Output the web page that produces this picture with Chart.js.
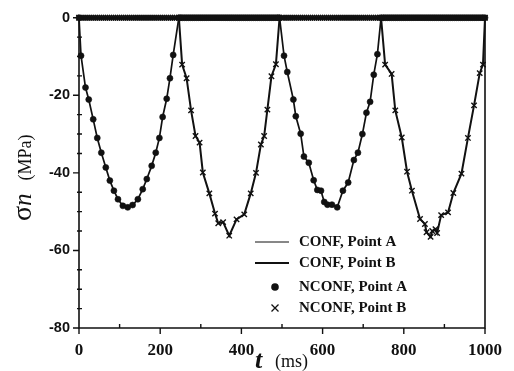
<!DOCTYPE html>
<html><head><meta charset="utf-8">
<script src="https://cdn.jsdelivr.net/npm/chart.js@4/dist/chart.umd.min.js"></script>
<style>html,body{margin:0;padding:0;background:#fff}#wrap{width:514px;height:371px;position:relative}</style>
</head><body><div id="wrap"><canvas id="c"></canvas></div>
<script>
// ---- tick values ----
const xTickValues = [0, 200, 400, 600, 800, 1000];
const yTickValues = [0, -20, -40, -60, -80];
const xMinorTicks = [100, 300, 500, 700, 900];
const yMinorTicks = [-5, -10, -15, -25, -30, -35, -45, -50, -55, -65, -70, -75];
const legendLabels = ['CONF, Point A', 'CONF, Point B', 'NCONF, Point A', 'NCONF, Point B'];

// ---- Point A (loaded in 0-250 and 500-750 ms) ----
const aT = [0, 5, 16, 24, 35, 45, 55, 66, 76, 86, 96, 108, 120, 132, 145, 157, 167, 179, 189, 198, 206, 216, 224, 232, 246,
            494, 505, 513, 528, 534, 546, 554, 566, 578, 587, 596, 604, 612, 623, 636, 650, 663, 677, 687, 698, 708, 717, 726, 735, 744,
            1000];
const aV = [0, -9.8, -18, -21.1, -26.2, -31, -34.8, -38.6, -42, -44.6, -46.8, -48.5, -48.9, -48.3, -46.8, -44.2, -41.6, -38.2, -34.8, -31, -25.6, -20.9, -15.6, -9.6, 0,
            0, -9.8, -14, -21.1, -25.4, -29.9, -35.8, -37.4, -41.9, -44.4, -44.6, -47.5, -48.2, -48.2, -48.9, -44.6, -42.5, -36.7, -34.8, -30, -24.5, -21.7, -14.7, -9.4, 0,
            0];
// Point A unloaded samples (stress 0 MPa)
const aZeroT1 = [250, 255, 260, 265, 270, 275, 280, 285, 290, 295,
                 300, 305, 310, 315, 320, 325, 330, 335, 340, 345,
                 350, 355, 360, 365, 370, 375, 380, 385, 390, 395,
                 400, 405, 410, 415, 420, 425, 430, 435, 440, 445,
                 450, 455, 460, 465, 470, 475, 480, 485, 490];
const aZeroV1 = [0, 0, 0, 0, 0, 0, 0, 0, 0, 0,
                 0, 0, 0, 0, 0, 0, 0, 0, 0, 0,
                 0, 0, 0, 0, 0, 0, 0, 0, 0, 0,
                 0, 0, 0, 0, 0, 0, 0, 0, 0, 0,
                 0, 0, 0, 0, 0, 0, 0, 0, 0];
const aZeroT2 = [750, 755, 760, 765, 770, 775, 780, 785, 790, 795,
                 800, 805, 810, 815, 820, 825, 830, 835, 840, 845,
                 850, 855, 860, 865, 870, 875, 880, 885, 890, 895,
                 900, 905, 910, 915, 920, 925, 930, 935, 940, 945,
                 950, 955, 960, 965, 970, 975, 980, 985, 990, 995];
const aZeroV2 = [0, 0, 0, 0, 0, 0, 0, 0, 0, 0,
                 0, 0, 0, 0, 0, 0, 0, 0, 0, 0,
                 0, 0, 0, 0, 0, 0, 0, 0, 0, 0,
                 0, 0, 0, 0, 0, 0, 0, 0, 0, 0,
                 0, 0, 0, 0, 0, 0, 0, 0, 0, 0];

// ---- Point B (loaded in 250-500 and 750-1000 ms) ----
const bT = [0,
            246, 254, 265, 276, 287, 297, 305, 321, 335, 343, 355, 370, 388, 407, 423, 436, 448, 456, 464, 474, 485, 494,
            744, 754, 770, 779, 795, 808, 820, 840, 852, 856, 866, 870, 878, 882, 892, 909, 922, 942, 958, 973, 987, 995, 1000];
const bV = [0,
            0, -12.1, -15.6, -23.9, -30.5, -32.2, -39.9, -45.3, -50.5, -53, -52.7, -56.2, -52, -50.7, -45.3, -40, -32.7, -30.5, -23.7, -15.1, -12, 0,
            0, -12.1, -14.5, -23.9, -30.9, -39.7, -44.6, -51.9, -53.2, -55.3, -56.5, -55, -54.5, -55.5, -50.9, -50.2, -45.2, -40.2, -31, -22.6, -14.3, -12.1, 0];
// Point B unloaded samples (stress 0 MPa)
const bZeroT1 = [5, 10, 15, 20, 25, 30, 35, 40, 45, 50,
                 55, 60, 65, 70, 75, 80, 85, 90, 95, 100,
                 105, 110, 115, 120, 125, 130, 135, 140, 145, 150,
                 155, 160, 165, 170, 175, 180, 185, 190, 195, 200,
                 205, 210, 215, 220, 225, 230, 235, 240];
const bZeroV1 = [0, 0, 0, 0, 0, 0, 0, 0, 0, 0,
                 0, 0, 0, 0, 0, 0, 0, 0, 0, 0,
                 0, 0, 0, 0, 0, 0, 0, 0, 0, 0,
                 0, 0, 0, 0, 0, 0, 0, 0, 0, 0,
                 0, 0, 0, 0, 0, 0, 0, 0];
const bZeroT2 = [500, 505, 510, 515, 520, 525, 530, 535, 540, 545,
                 550, 555, 560, 565, 570, 575, 580, 585, 590, 595,
                 600, 605, 610, 615, 620, 625, 630, 635, 640, 645,
                 650, 655, 660, 665, 670, 675, 680, 685, 690, 695,
                 700, 705, 710, 715, 720, 725, 730, 735, 740];
const bZeroV2 = [0, 0, 0, 0, 0, 0, 0, 0, 0, 0,
                 0, 0, 0, 0, 0, 0, 0, 0, 0, 0,
                 0, 0, 0, 0, 0, 0, 0, 0, 0, 0,
                 0, 0, 0, 0, 0, 0, 0, 0, 0, 0,
                 0, 0, 0, 0, 0, 0, 0, 0, 0];

const pts = (t, v) => t.map((x, i) => ({x: x, y: v[i]}));
const INK = '#111';

const frameAndTicks = {
  id: 'frameAndTicks',
  beforeDatasetsDraw(chart) {
    const ctx = chart.ctx, a = chart.chartArea, xs = chart.scales.x, ys = chart.scales.y;
    ctx.save();
    ctx.strokeStyle = INK; ctx.lineWidth = 1.6;
    ctx.beginPath();
    ctx.moveTo(a.left, a.top); ctx.lineTo(a.left, a.bottom); ctx.lineTo(a.right, a.bottom); ctx.lineTo(a.right, a.top);
    ctx.stroke();
    ctx.lineWidth = 1.4;
    ctx.beginPath();
    xTickValues.forEach(v => { const p = xs.getPixelForValue(v); ctx.moveTo(p, a.bottom); ctx.lineTo(p, a.bottom + 6); });
    xMinorTicks.forEach(v => { const p = xs.getPixelForValue(v); ctx.moveTo(p, a.bottom); ctx.lineTo(p, a.bottom - 4); });
    yTickValues.forEach(v => { const p = ys.getPixelForValue(v); ctx.moveTo(a.left, p); ctx.lineTo(a.left - 6, p); });
    yMinorTicks.forEach(v => { const p = ys.getPixelForValue(v); ctx.moveTo(a.left - 2, p); ctx.lineTo(a.left + 3, p); });
    ctx.stroke();
    ctx.restore();
  },
  afterDraw(chart) {
    const ctx = chart.ctx, a = chart.chartArea;
    ctx.save();
    ctx.fillStyle = INK;
    // y title (rotated)
    ctx.translate(31, 221);
    ctx.rotate(-Math.PI / 2);
    ctx.textBaseline = 'alphabetic';
    ctx.textAlign = 'left';
    ctx.font = '28px "Liberation Serif"';
    ctx.fillText('σ', 0, 0);
    let w = ctx.measureText('σ').width;
    ctx.font = 'italic 25px "Liberation Serif"';
    ctx.fillText('n', w, 0);
    w += ctx.measureText('n').width;
    ctx.font = '18px "Liberation Serif"';
    ctx.fillText('(MPa)', w + 13, 0);
    ctx.restore();
    // x title
    ctx.save();
    ctx.fillStyle = INK;
    ctx.textBaseline = 'alphabetic';
    ctx.font = 'bold italic 26px "Liberation Serif"';
    ctx.fillText('t', 255, 368);
    ctx.font = '18px "Liberation Serif"';
    ctx.fillText('(ms)', 275, 367);
    ctx.restore();
    // legend
    ctx.save();
    const lx = a.right - 230, tx = a.right - 186;
    const rows = [242, 263, 287, 308];
    ctx.strokeStyle = INK; ctx.fillStyle = INK;
    ctx.lineWidth = 1;
    ctx.beginPath(); ctx.moveTo(lx, rows[0]); ctx.lineTo(lx + 34, rows[0]); ctx.stroke();
    ctx.lineWidth = 2;
    ctx.beginPath(); ctx.moveTo(lx, rows[1]); ctx.lineTo(lx + 34, rows[1]); ctx.stroke();
    ctx.beginPath(); ctx.arc(lx + 20, rows[2], 3.8, 0, Math.PI * 2); ctx.fill();
    ctx.lineWidth = 1.3;
    ctx.beginPath();
    ctx.moveTo(lx + 16.5, rows[3] - 3.5); ctx.lineTo(lx + 23.5, rows[3] + 3.5);
    ctx.moveTo(lx + 23.5, rows[3] - 3.5); ctx.lineTo(lx + 16.5, rows[3] + 3.5);
    ctx.stroke();
    ctx.font = 'bold 15px "Liberation Serif"';
    ctx.textBaseline = 'middle';
    legendLabels.forEach((s, i) => ctx.fillText(s, tx, rows[i]));
    ctx.restore();
  }
};

new Chart(document.getElementById('c'), {
  type: 'scatter',
  data: {
    datasets: [
      {label: legendLabels[0], data: pts(aT, aV), showLine: true, borderColor: INK, borderWidth: 1.7, pointRadius: 0, clip: false, order: 3},
      {label: legendLabels[1], data: pts(bT, bV), showLine: true, borderColor: INK, borderWidth: 2.0, pointRadius: 0, clip: false, order: 4},
      {label: legendLabels[2], data: pts(aT, aV).concat(pts(aZeroT1, aZeroV1), pts(aZeroT2, aZeroV2)), showLine: false, pointStyle: 'circle',
       pointRadius: 3.0, backgroundColor: INK, borderColor: INK, borderWidth: 0.6, clip: false, order: 1},
      {label: legendLabels[3], data: pts(bT, bV).concat(pts(bZeroT1, bZeroV1), pts(bZeroT2, bZeroV2)), showLine: false, pointStyle: 'crossRot',
       pointRadius: 3.8, backgroundColor: INK, borderColor: INK, borderWidth: 1.4, clip: false, order: 2}
    ]
  },
  options: {
    responsive: true, maintainAspectRatio: false, animation: false,
    layout: {padding: {top: 16, right: 26, left: 0, bottom: 0}},
    plugins: {legend: {display: false}, tooltip: {enabled: false}},
    scales: {
      x: {
        type: 'linear', min: 0, max: 1000,
        afterBuildTicks: s => { s.ticks = xTickValues.map(v => ({value: v})); },
        afterFit: s => { s.height = 43; },
        grid: {display: false, drawTicks: false},
        border: {display: false},
        ticks: {color: INK, padding: 12, maxRotation: 0, callback: v => String(v),
                font: {family: 'Liberation Serif', weight: 'bold', size: 17}}
      },
      y: {
        type: 'linear', min: -80, max: 0,
        afterBuildTicks: s => { s.ticks = yTickValues.map(v => ({value: v})); },
        afterFit: s => { s.width = 79; },
        grid: {display: false, drawTicks: false},
        border: {display: false},
        ticks: {color: INK, padding: 9, callback: v => String(v),
                font: {family: 'Liberation Sans', weight: 'bold', size: 14.5}}
      }
    }
  },
  plugins: [frameAndTicks]
});
</script></body></html>
